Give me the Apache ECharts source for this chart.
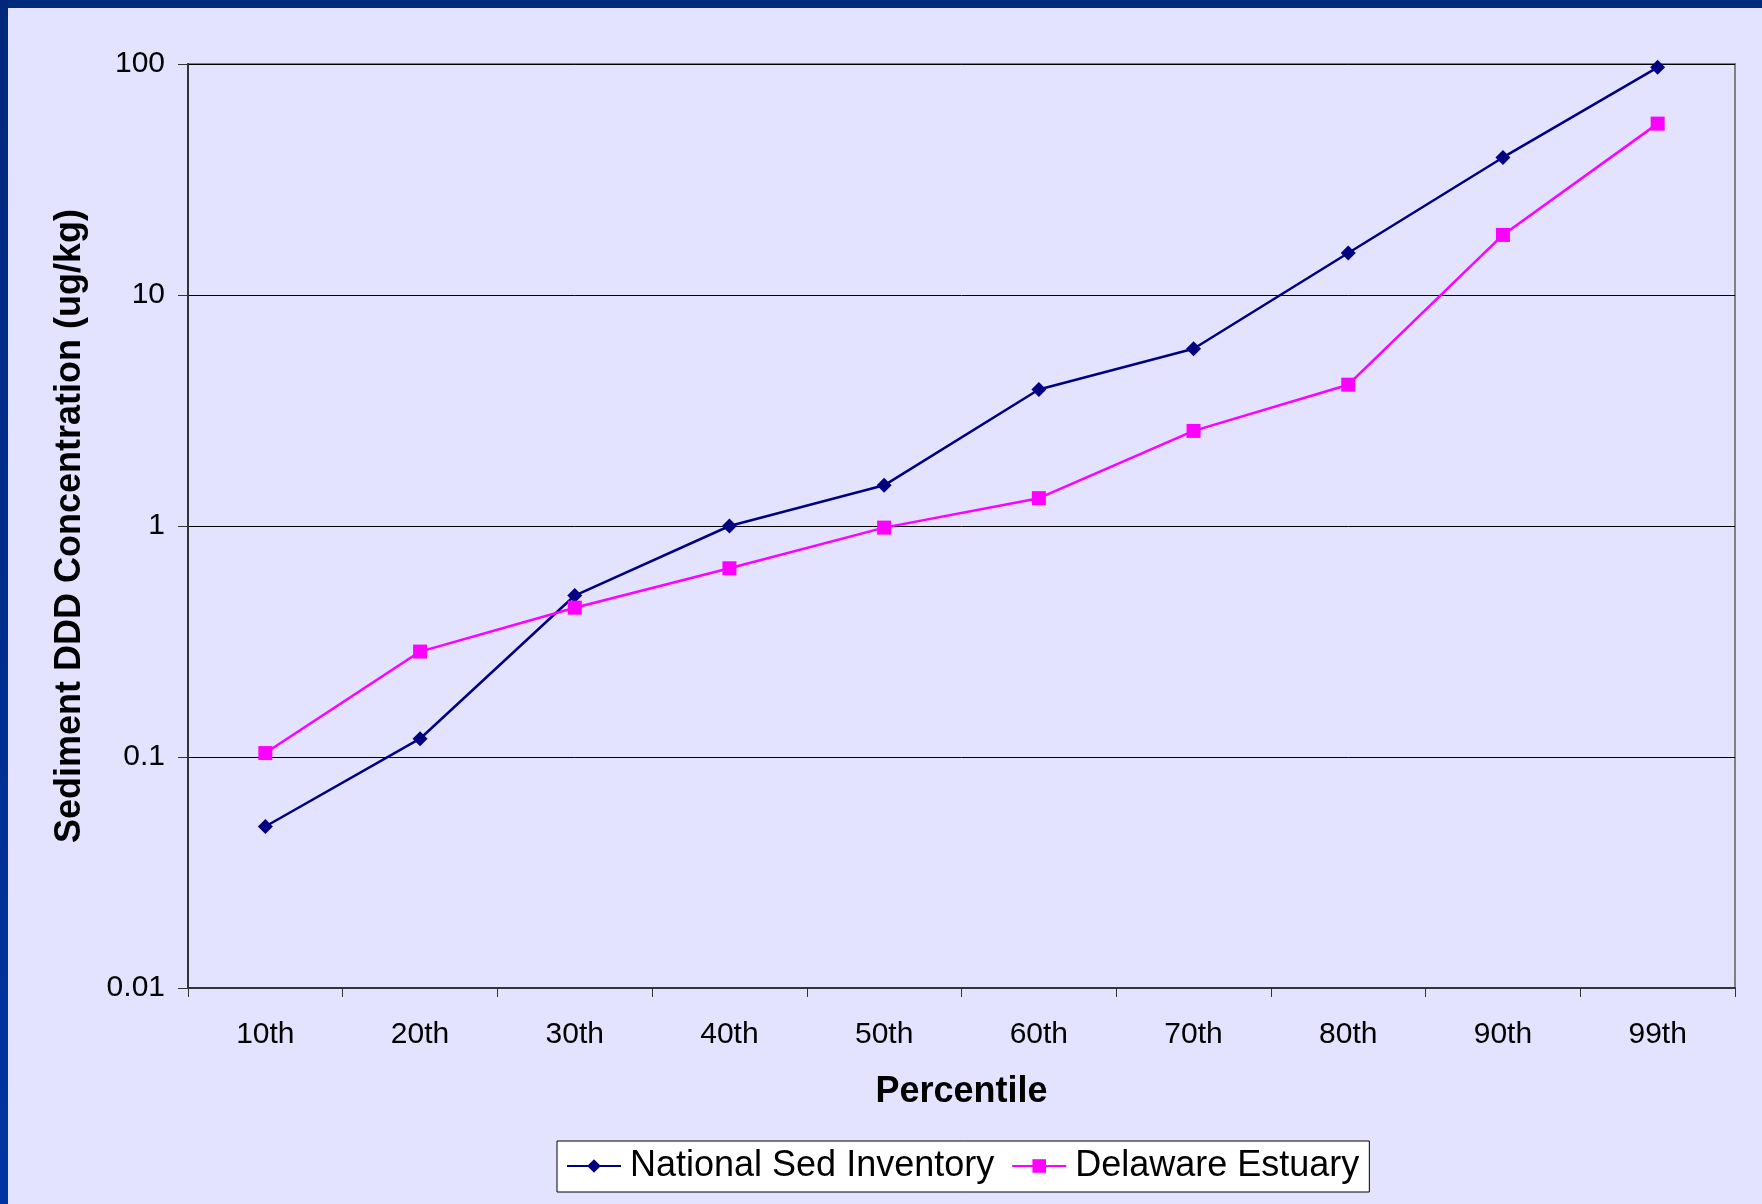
<!DOCTYPE html>
<html>
<head>
<meta charset="utf-8">
<script src="https://cdn.jsdelivr.net/npm/echarts@6/dist/echarts.min.js"></script>
<style>
html,body{margin:0;padding:0;background:#E3E3FF;}
#chart{width:1762px;height:1204px;}
</style>
</head>
<body>
<div id="chart"></div>
<script>
const categories = ['10th','20th','30th','40th','50th','60th','70th','80th','90th','99th'];
const nationalSedInventory = [0.050, 0.12, 0.50, 1.0, 1.5, 3.9, 5.85, 15.2, 39.4, 96.7];
const delawareEstuary = [0.104, 0.286, 0.443, 0.656, 0.984, 1.32, 2.58, 4.09, 18.2, 55.2];
const yTickLabels = ['0.01','0.1','1','10','100'];

const FONT = '"Liberation Sans", Arial, sans-serif';
const chart = echarts.init(document.getElementById('chart'));
chart.setOption({
  backgroundColor: '#E3E3FF',
  textStyle: { fontFamily: FONT, color: '#000' },
  graphic: [
    { type: 'rect', left: 0, top: 0, shape: { width: 1762, height: 8 }, style: { fill: '#002A7C' }, z: 100 },
    { type: 'rect', left: 0, top: 0, shape: { width: 8, height: 1204 },
      style: { fill: new echarts.graphic.LinearGradient(0, 0, 0, 1, [
        { offset: 0, color: '#00287A' }, { offset: 1, color: '#0033A3' }]) }, z: 100 }
  ],
  grid: {
    left: 188, right: 27, top: 64, bottom: 216,
    show: true, borderColor: '#808080', borderWidth: 2, backgroundColor: 'transparent'
  },
  legend: {
    left: 557, top: 1141,
    orient: 'horizontal',
    backgroundColor: '#FFFFFF',
    borderColor: '#000', borderWidth: 1,
    padding: [7, 10, 8, 9],
    itemWidth: 54, itemHeight: 17, itemGap: 17,
    textStyle: { fontSize: 36, fontFamily: FONT, color: '#000', padding: [0, 0, 0, 4] },
    data: ['National Sed Inventory', 'Delaware Estuary']
  },
  xAxis: {
    type: 'category',
    data: categories,
    boundaryGap: true,
    name: 'Percentile',
    nameLocation: 'middle',
    nameGap: 86,
    nameTextStyle: { fontSize: 36, fontWeight: 'bold', fontFamily: FONT, color: '#000' },
    axisLine: { lineStyle: { color: '#333', width: 2 } },
    axisTick: { show: true, interval: 0, length: 9, inside: false, lineStyle: { color: '#333', width: 1 } },
    axisLabel: { fontSize: 30, color: '#000', fontFamily: FONT, margin: 32, interval: 0 },
    splitLine: { show: false }
  },
  yAxis: {
    type: 'log',
    logBase: 10,
    min: 0.01, max: 100,
    name: 'Sediment DDD Concentration (ug/kg)',
    nameLocation: 'middle',
    nameGap: 100,
    nameTextStyle: { fontSize: 36, fontWeight: 'bold', fontFamily: FONT, color: '#000' },
    axisLine: { show: true, lineStyle: { color: '#333', width: 2 } },
    axisTick: { show: true, length: 10, inside: false, lineStyle: { color: '#333', width: 1 } },
    axisLabel: {
      fontSize: 30, color: '#000', fontFamily: FONT, margin: 23,
      formatter: function (v) {
        const i = Math.round(Math.log10(v)) + 2;
        return yTickLabels[i] !== undefined ? yTickLabels[i] : '';
      }
    },
    splitLine: { show: true, lineStyle: { color: '#000', width: 1 } }
  },
  series: [
    {
      name: 'National Sed Inventory',
      type: 'line',
      data: nationalSedInventory,
      symbol: 'diamond', symbolSize: 15,
      lineStyle: { color: '#000080', width: 2.5 },
      itemStyle: { color: '#000080' },
      animation: false
    },
    {
      name: 'Delaware Estuary',
      type: 'line',
      data: delawareEstuary,
      symbol: 'rect', symbolSize: 14,
      lineStyle: { color: '#FF00FF', width: 2.5 },
      itemStyle: { color: '#FF00FF' },
      animation: false
    }
  ],
  animation: false
});
</script>
</body>
</html>
